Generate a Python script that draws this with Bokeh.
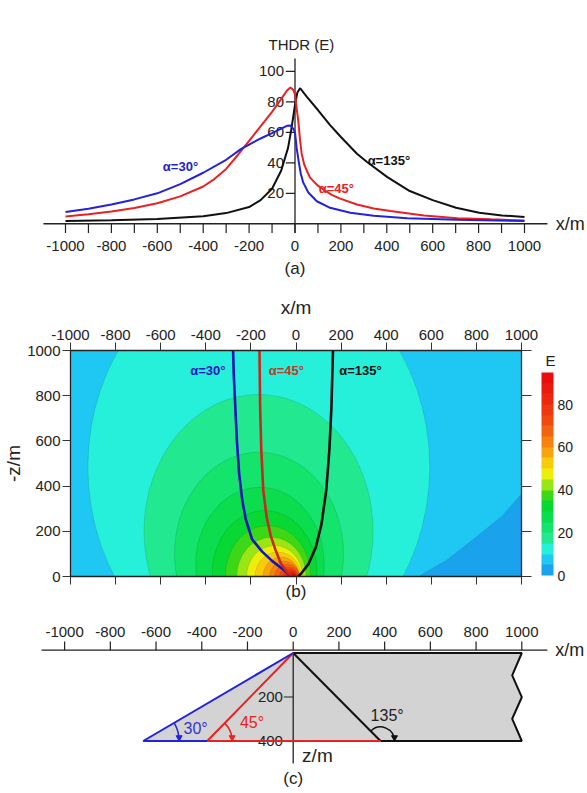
import numpy as np
from bokeh.plotting import figure
from bokeh.models import (Range1d, LinearAxis, FixedTicker, ColorBar,
                          LinearColorMapper, ColumnDataSource)
from bokeh.embed import file_html
from bokeh.resources import INLINE
from bokeh.core.properties import value

FONT = "Liberation Sans"
INK = "#222222"

# ---------------- panel (a) data ----------------
a_xticks = list(range(-1000, 1001, 100))
a_xlabels = [-1000, -800, -600, -400, -200, 0, 200, 400, 600, 800, 1000]
a_yticks = [20, 40, 60, 80, 100]

blue_x = [-1000, -900, -800, -700, -600, -500, -400, -300, -236, -200, -150, -100, -60, -35, -20, -8, 0,
          7, 15, 25, 36, 58, 95, 153, 241, 343, 489, 708, 1000]
blue_y = [7.7, 9.8, 12.6, 16.0, 20.0, 26.0, 33.5, 42.0, 49.0, 52.0, 56.0, 59.5, 62.5, 64.3, 64.5, 62.5, 60.0,
          50.0, 42.0, 33.0, 27.0, 20.5, 14.8, 10.5, 7.3, 5.3, 3.7, 2.6, 1.8]

red_x = [-1000, -900, -800, -700, -600, -500, -400, -350, -300, -250, -200, -150, -100, -60, -35, -20, -8, 0,
         7, 14, 22, 29, 40, 51, 65, 80, 100, 124, 160, 197, 270, 343, 416, 562, 708, 854, 1000]
red_y = [4.8, 6.2, 8.0, 10.3, 13.5, 18.0, 24.5, 29.5, 36.0, 45.0, 54.5, 64.0, 73.5, 82.0, 87.5, 89.5, 88.0, 85.0,
         76.0, 68.0, 55.0, 46.0, 39.0, 35.0, 30.5, 28.0, 25.0, 22.5, 19.0, 16.5, 12.7, 10.0, 8.4, 5.5, 3.7, 2.9, 2.2]

black_x = [-1000, -800, -600, -400, -300, -200, -150, -100, -60, -30, -15, 0, 10, 22, 51, 100, 153, 200,
           270, 314, 401, 500, 600, 702, 803, 902, 1000]
black_y = [1.8, 2.3, 3.2, 5.0, 7.0, 11.0, 15.5, 23.0, 35.0, 50.0, 63.0, 78.0, 86.0, 89.0, 83.5, 74.7, 64.8, 57.0,
           46.0, 40.6, 30.8, 21.5, 15.5, 10.5, 7.3, 5.5, 4.4]

# ---------------- panel (b) data ----------------
b_xticks = [-1000, -800, -600, -400, -200, 0, 200, 400, 600, 800, 1000]
b_zticks = [0, 200, 400, 600, 800, 1000]
e_levels = [0, 5, 10, 15, 20, 25, 30, 35, 40, 45, 50, 55, 60, 65, 70, 75, 80, 85, 90, 95]
e_colors = ["#1AA3EC", "#1EC8F2", "#26EFDA", "#22E890", "#14E36C", "#0BDD4E", "#08D834",
            "#3CD818", "#9AE614", "#EEEE0C", "#F8CC0C", "#F8A40E", "#F6820F", "#F26410",
            "#F04A10", "#EE3810", "#EC2810", "#EA1A10", "#E80E0E"]
cb_ticks = [0, 20, 40, 60, 80]
# contour boundaries (lower level 10..90) read as ellipses: centre x, centre z, half-width, half-height
c_level = [10, 15, 20, 25, 30, 35, 40, 45, 50, 55, 60, 65, 70, 75, 80, 85, 90]
c_x = [-165, -166, -164, -160, -139, -124, -109, -95, -80, -66, -51, -40, -32, -25, -20, -15, -10]
c_z = [485, 200, 100, 53, 12, 0, 0, 0, 0, 0, 0, 0, 0, 0, 0, 0, 0]
c_a = [758, 508, 375, 285, 233, 190, 154, 124, 102, 80, 66, 55, 41, 30, 21, 14, 8]
c_b = [905, 606, 450, 342, 280, 226, 174, 137, 108, 86, 68, 53, 41, 31, 22, 15, 9]
# lowest level (0-5) region, lower right corner
low_x = [543, 667, 799, 916, 1000, 1050, 1050, 543]
low_z = [0, 71, 174, 269, 365, 420, -50, -50]

bb_x = [-279, -276, -269, -262, -252, -238, -222, -195, -150, -105, -55, -22]
bb_z = [1000, 894, 747, 600, 453, 335, 250, 165, 110, 68, 30, 0]
br_x = [-162, -159, -154, -145, -130, -112, -92, -68, -40, -20]
br_z = [1000, 747, 560, 380, 262, 180, 120, 60, 20, 0]
bk_x = [164, 157, 148, 134, 113, 88, 56, 22, 10]
bk_z = [1000, 747, 560, 380, 232, 130, 56, 12, 0]

# ---------------- panel (c) data ----------------
c_xticks = [-1000, -800, -600, -400, -200, 0, 200, 400, 600, 800, 1000]
c_zticks = [200, 400]
body_x = [0, 1000, 958, 1000, 958, 1000, -656]
body_z = [0, 0, 102, 201, 299, 400, 400]
foot30, foot45, foot135 = -656, -376, 382
base_z = 400


def txt(p, x, y, t, size="15px", align="center", color=INK, style="normal"):
    p.text(x=x, y=y, text=t, text_font=value(FONT), text_font_size=size, text_font_style=style,
           text_align=align, text_baseline="middle", text_color=color)


# =====================================================
# Panel (a)
pa = figure(width=587, height=288, x_range=Range1d(-1283.2, 1274.5), y_range=Range1d(-42.5, 146.6),
            x_axis_type=None, y_axis_type=None, min_border=0, outline_line_color=None,
            output_backend="svg", toolbar_location=None)
pa.grid.visible = False
pa.segment(x0=[-1096], y0=[0], x1=[1100], y1=[0], line_color=INK, line_width=1.3)
pa.segment(x0=[0], y0=[-6], x1=[0], y1=[108.5], line_color=INK, line_width=1.3)
pa.segment(x0=a_xticks, y0=[0] * len(a_xticks), x1=a_xticks, y1=[-6] * len(a_xticks), line_color=INK, line_width=1.2)
pa.segment(x0=[0] * len(a_yticks), y0=a_yticks, x1=[-40] * len(a_yticks), y1=a_yticks, line_color=INK, line_width=1.2)
txt(pa, a_xlabels, [-14.5] * len(a_xlabels), [str(v) for v in a_xlabels])
txt(pa, [-48] * len(a_yticks), a_yticks, [str(v) for v in a_yticks], align="right")
txt(pa, [28], [117.8], ["THDR (E)"])
txt(pa, [1136], [0], ["x/m"], size="18px", align="left")
txt(pa, [0], [-29.5], ["(a)"], size="17px")
pa.line(black_x, black_y, line_color="#111111", line_width=2)
pa.line(red_x, red_y, line_color="#E82222", line_width=2)
pa.line(blue_x, blue_y, line_color="#2222DD", line_width=2)
txt(pa, [-499], [37.6], ["α=30°"], size="13px", color="#2222CC", style="bold")
txt(pa, [180], [23], ["α=45°"], size="13px", color="#E82222", style="bold")
txt(pa, [409], [41.6], ["α=135°"], size="13px", color="#111111", style="bold")

# =====================================================
# Panel (b)
pb = figure(width=587, height=315, x_range=Range1d(-1000, 1000), y_range=Range1d(0, 1000),
            x_axis_location="above", min_border_left=68, min_border_right=66, min_border_top=62,
            min_border_bottom=27, output_backend="svg", toolbar_location=None,
            background_fill_color=e_colors[1], outline_line_color=INK)
pb.grid.visible = False


def style_axis(ax, ticks, show_labels, tick_out):
    ax.ticker = FixedTicker(ticks=ticks)
    ax.minor_tick_line_color = None
    ax.major_tick_in = 0
    ax.major_tick_out = tick_out
    ax.major_tick_line_color = "#333333"
    ax.axis_line_color = INK
    ax.axis_line_width = 1.3
    ax.major_label_text_font = FONT
    ax.major_label_text_color = INK
    ax.major_label_overrides = {t: str(t) for t in ticks}
    ax.axis_label_text_font = FONT
    ax.axis_label_text_font_style = "normal"
    ax.axis_label_text_color = INK
    if show_labels:
        ax.major_label_standoff = 3
    else:
        ax.major_label_text_color = None
        ax.major_label_text_font_size = "1px"
        ax.major_label_standoff = 0


xt = pb.xaxis[0]
style_axis(xt, b_xticks, True, 8)
xt.major_label_text_font_size = "15px"
xt.axis_label = "x/m"
xt.axis_label_text_font_size = "19px"
xt.axis_label_standoff = 9

yl = pb.yaxis[0]
style_axis(yl, b_zticks, True, 8)
yl.major_label_standoff = 2
yl.major_label_text_font_size = "15px"
yl.axis_label = "-z/m"
yl.axis_label_text_font_size = "19px"
yl.axis_label_standoff = 0

ra = LinearAxis()
style_axis(ra, b_zticks, False, 10)
pb.add_layout(ra, "right")
ba = LinearAxis()
style_axis(ba, b_xticks, False, 8)
ba.axis_label = "(b)"
ba.axis_label_text_font_size = "17px"
ba.axis_label_standoff = -3
pb.add_layout(ba, "below")

pb.patch(low_x, low_z, fill_color=e_colors[0], line_color="#000000", line_alpha=0.15, line_width=0.7)
esrc = ColumnDataSource(dict(x=c_x, y=c_z, w=[2 * v for v in c_a], h=[2 * v for v in c_b],
                             color=[e_colors[e_levels.index(l)] for l in c_level]))
pb.ellipse(x="x", y="y", width="w", height="h", fill_color="color", line_color="#000000",
           line_alpha=0.15, line_width=0.7, source=esrc)

pb.line(bb_x, bb_z, line_color="#1616B8", line_width=2.6)
pb.line(br_x, br_z, line_color="#C8281E", line_width=2.6)
pb.line(bk_x, bk_z, line_color="#111111", line_width=2.6)
txt(pb, [-391], [911], ["α=30°"], size="13px", color="#1616C0", style="bold")
txt(pb, [-43], [911], ["α=45°"], size="13px", color="#C0392B", style="bold")
txt(pb, [286], [911], ["α=135°"], size="13px", color="#111111", style="bold")

mapper = LinearColorMapper(palette=e_colors, low=e_levels[0], high=e_levels[-1])
cb = ColorBar(color_mapper=mapper, ticker=FixedTicker(ticks=cb_ticks), width=12, height=203,
              major_label_text_font=FONT, major_label_overrides={t: str(t) for t in cb_ticks},
              major_label_text_font_size="14px", major_label_text_color=INK,
              major_tick_line_color=None, bar_line_color=None, border_line_color=None,
              background_fill_color=None, label_standoff=4, padding=0, margin=0, location=(471, 1))
pb.add_layout(cb)
# colour-bar title "E", drawn as the single label of an invisible bar just above it
tmapper = LinearColorMapper(palette=["#ffffff"], low=0, high=1)
cbt = ColorBar(color_mapper=tmapper, ticker=FixedTicker(ticks=[0.5]), width=1, height=2,
               major_label_overrides={0.5: "E"}, major_label_text_font=FONT,
               major_label_text_font_size="15px", major_label_text_color=INK, scale_alpha=0,
               major_tick_line_color=None, bar_line_color=None, border_line_color=None,
               background_fill_color=None, label_standoff=0, padding=0, margin=0, location=(474, 215))
pb.add_layout(cbt)

# =====================================================
# Panel (c)
pc = figure(width=587, height=189, x_range=Range1d(-1280.4, 1287.4), y_range=Range1d(-634.1, 225),
            x_axis_type=None, y_axis_type=None, min_border=0, outline_line_color=None,
            output_backend="svg", toolbar_location=None)
pc.grid.visible = False
neg = lambda arr: [-v for v in arr]
pc.patch(body_x, neg(body_z), fill_color="#D3D3D3", line_color=None)
pc.segment(x0=[-1101], y0=[13], x1=[1112], y1=[13], line_color=INK, line_width=1.3)
pc.segment(x0=c_xticks, y0=[13] * len(c_xticks), x1=c_xticks, y1=[52] * len(c_xticks),
           line_color=INK, line_width=1.2)
txt(pc, c_xticks, [94.5] * len(c_xticks), [str(v) for v in c_xticks])
txt(pc, [1146], [13], ["x/m"], size="18px", align="left")
pc.segment(x0=[0], y0=[0], x1=[0], y1=[-502], line_color=INK, line_width=1.3)
pc.segment(x0=[0] * len(c_zticks), y0=neg(c_zticks), x1=[-41] * len(c_zticks), y1=neg(c_zticks),
           line_color=INK, line_width=1.2)
txt(pc, [-45] * len(c_zticks), neg(c_zticks), [str(v) for v in c_zticks], align="right")
txt(pc, [39], [-466], ["z/m"], size="19px", align="left")
txt(pc, [0], [-570], ["(c)"], size="17px")

# body outline (black)
pc.line([0, 1000, 958, 1000, 958, 1000, foot135], neg([0, 0, 102, 201, 299, 400, base_z]),
        line_color="#111111", line_width=2)
pc.line([0, foot135], neg([0, base_z]), line_color="#111111", line_width=2)
# 45 deg (red)
pc.line([0, foot45, foot135], neg([0, base_z, base_z]), line_color="#E82222", line_width=2)
# 30 deg (blue)
pc.line([0, foot30, foot45], neg([0, base_z, base_z]), line_color="#2222DD", line_width=2)

# angle marks
pc.arc(x=[foot30], y=[-base_z], radius=157, start_angle=0, end_angle=np.radians(30),
       line_color="#2222DD", line_width=1.5)
pc.arc(x=[foot45], y=[-base_z], radius=109, start_angle=0, end_angle=np.radians(45),
       line_color="#E82222", line_width=1.5)
pc.arc(x=[foot135], y=[-base_z], radius=61, start_angle=0, end_angle=np.radians(134),
       line_color="#111111", line_width=1.5)
pc.scatter(x=[foot30 + 157], y=[-base_z + 16], marker="triangle", angle=np.pi, size=6,
           fill_color="#2222DD", line_color="#2222DD")
pc.scatter(x=[foot45 + 109], y=[-base_z + 16], marker="triangle", angle=np.pi, size=6,
           fill_color="#E82222", line_color="#E82222")
pc.scatter(x=[foot135 + 61], y=[-base_z + 16], marker="triangle", angle=np.pi, size=6,
           fill_color="#111111", line_color="#111111")
txt(pc, [-427], [-345], ["30°"], size="16px", color="#3333CC")
txt(pc, [-180], [-314], ["45°"], size="16px", color="#E82222")
txt(pc, [411], [-284], ["135°"], size="16px")

open("out.html", "w").write(file_html([pa, pb, pc], INLINE))
